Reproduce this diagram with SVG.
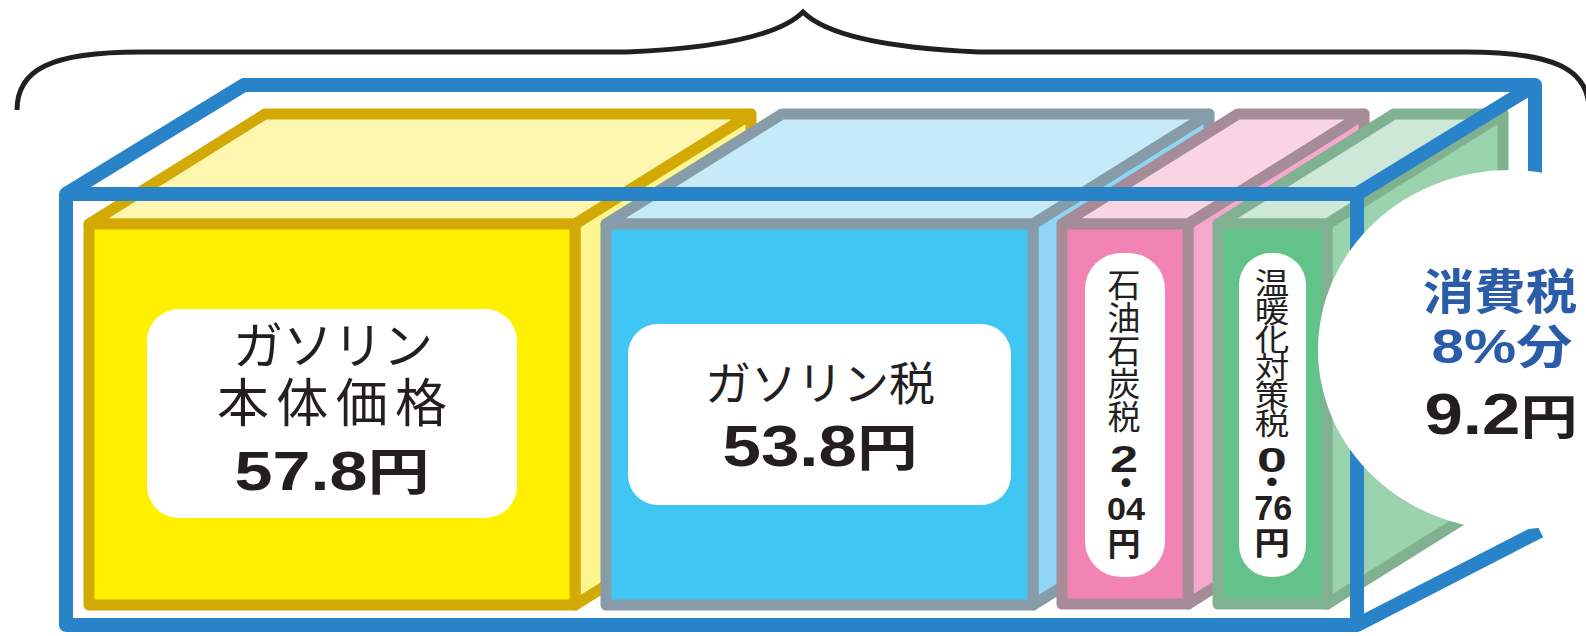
<svg xmlns="http://www.w3.org/2000/svg" width="1586" height="636" viewBox="0 0 1586 636">
<style>
.bx{stroke-width:11;stroke-linejoin:round}
.yl{stroke:#d3a906}.yf{fill:#fff000}.yt{fill:#fff7b0}.ys{fill:#fff58f}
.bl{stroke:#869ca8}.bf{fill:#40c6f2}.bt{fill:#c6eaf8}.bs{fill:#8fd6f5}
.pl{stroke:#a68c98}.pf{fill:#f184b4}.pt{fill:#f9d4e5}.ps{fill:#f4a8cc}
.gl{stroke:#80b190}.gf{fill:#63c18a}.gt{fill:#cde8d6}.gs{fill:#9ad3ae}
.lab{fill:#ffffff}
.jp{font-family:"Noto Sans CJK JP","Noto Sans",sans-serif;font-weight:400;fill:#231f20}
.jpL{font-family:"Liberation Sans","Noto Sans CJK JP",sans-serif;font-weight:400;fill:#231f20}
.num{font-family:"Liberation Sans","Noto Sans CJK JP",sans-serif;font-weight:bold;fill:#231f20}
.jpb{font-family:"Noto Sans CJK JP","Noto Sans",sans-serif;font-weight:bold;fill:#231f20}
.c{text-anchor:middle}
.v{writing-mode:vertical-rl;text-orientation:upright}
.outer{fill:none;stroke:#2983c8;stroke-width:14;stroke-linejoin:round}
</style>

<g id="brace">
<path d="M17,110 C17,70 50,52 140,52 L627,52 C720,48 780,35 803,12 C826,35 886,48 979,52 L1466,52 C1556,52 1589,70 1589,110" fill="none" stroke="#231f20" stroke-width="5"/>
</g>

<g id="box-gasoline-price">
<polygon class="bx yl ys" points="575,224 751,114 751,495 575,605"/>
<polygon class="bx yl yt" points="89,224 265,114 751,114 575,224"/>
<rect class="bx yl yf" x="89" y="224" width="486" height="381"/>
<rect class="lab" x="147" y="309" width="370" height="209" rx="32"/>
<text class="jpL c" x="333" y="364" font-size="50">ガソリン</text>
<text class="jpL c" x="332" y="422" font-size="52" textLength="230" lengthAdjust="spacing">本体価格</text>
<text class="num c" x="332" y="490" textLength="195" lengthAdjust="spacingAndGlyphs"><tspan font-size="55">57.8</tspan><tspan class="jpb" font-size="50">円</tspan></text>
</g>

<g id="box-gasoline-tax">
<polygon class="bx bl bs" points="1033,224 1209,114 1209,495 1033,605"/>
<polygon class="bx bl bt" points="606,224 782,114 1209,114 1033,224"/>
<rect class="bx bl bf" x="606" y="224" width="427" height="381"/>
<rect class="lab" x="628" y="324" width="383" height="181" rx="30"/>
<text class="jpL c" x="820" y="400" font-size="46">ガソリン税</text>
<text class="num c" x="820" y="466" textLength="195" lengthAdjust="spacingAndGlyphs"><tspan font-size="57">53.8</tspan><tspan class="jpb" font-size="50">円</tspan></text>
</g>

<g id="box-petroleum-coal-tax">
<polygon class="bx pl ps" points="1188,224 1364,114 1364,494 1188,604"/>
<polygon class="bx pl pt" points="1062,224 1238,114 1364,114 1188,224"/>
<rect class="bx pl pf" x="1062" y="224" width="126" height="380"/>
<rect class="lab" x="1085" y="253" width="80" height="324" rx="36"/>
<text class="jp v" x="1124" y="268" font-size="33">石油石炭税</text>
<text class="num c" x="1124" y="472" font-size="37" textLength="28" lengthAdjust="spacingAndGlyphs">2</text>
<text class="jpb v" x="1126" y="466" font-size="34">・</text>
<text class="num c" x="1126" y="520" font-size="32" textLength="38" lengthAdjust="spacingAndGlyphs">04</text>
<text class="jpb v" x="1124" y="527" font-size="33">円</text>
</g>

<g id="box-climate-tax">
<polygon class="bx gl gs" points="1327,224 1503,114 1503,494 1327,604"/>
<polygon class="bx gl gt" points="1218,224 1394,114 1503,114 1327,224"/>
<rect class="bx gl gf" x="1218" y="224" width="109" height="380"/>
<rect class="lab" x="1239" y="253" width="67" height="324" rx="32"/>
<g transform="translate(1272,0) scale(1.15,1)">
<text class="jp v" x="0" y="268" font-size="30" letter-spacing="-2">温暖化対策税</text>
<text class="num c" x="0" y="472" font-size="35" textLength="26" lengthAdjust="spacingAndGlyphs">0</text>
<text class="jpb v" x="0" y="466" font-size="32">・</text>
<text class="num c" x="1" y="520" font-size="35" textLength="33" lengthAdjust="spacingAndGlyphs">76</text>
<text class="jpb v" x="0" y="527" font-size="31">円</text>
</g>
</g>

<g id="outer-box">
<rect class="outer" x="66" y="194" width="1291" height="431"/>
<path class="outer" d="M66,194 L244,85 L1535,85 L1357,194 M1535,85 L1535,505 M1357,625 L1540,531"/>
</g>

<g id="consumption-tax">
<ellipse cx="1510" cy="350" rx="192" ry="180" fill="#ffffff"/>
<text class="num c" x="1500" y="309" font-size="48" style="fill:#2a5caa" textLength="154" lengthAdjust="spacingAndGlyphs">消費税</text>
<text class="num c" x="1502" y="363" textLength="141" lengthAdjust="spacingAndGlyphs" style="fill:#2a5caa"><tspan font-size="48">8%</tspan><tspan font-size="46">分</tspan></text>
<text class="num c" x="1501" y="434" textLength="153" lengthAdjust="spacingAndGlyphs"><tspan font-size="58">9.2</tspan><tspan class="jpb" font-size="48">円</tspan></text>
</g>
</svg>
